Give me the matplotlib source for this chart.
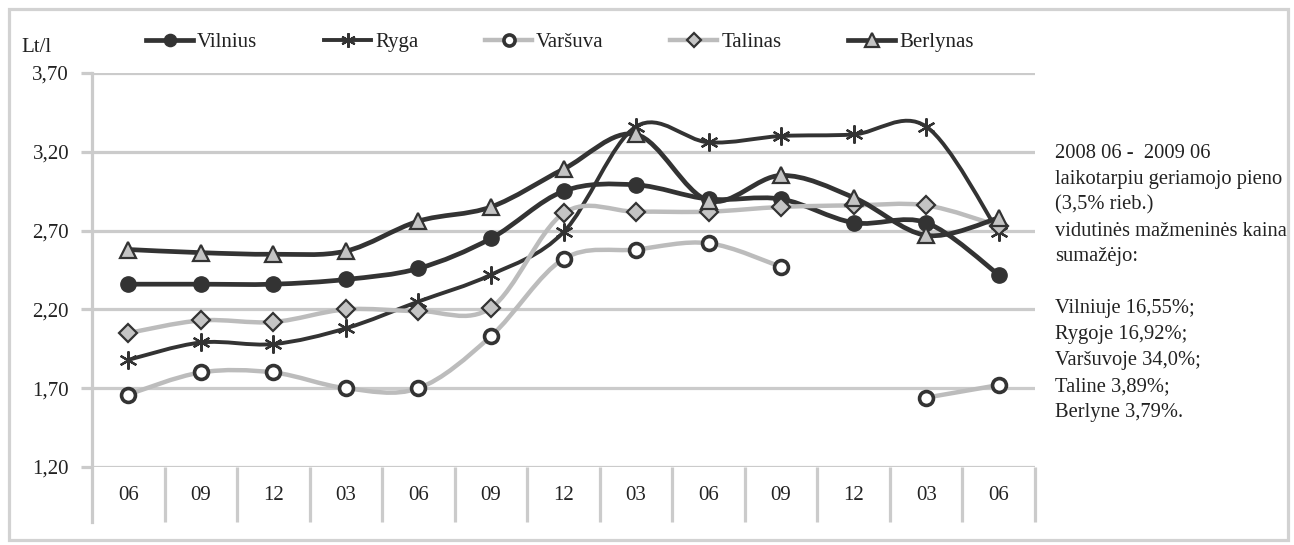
import numpy as np
import matplotlib
matplotlib.use("Agg")
import matplotlib.pyplot as plt
from matplotlib.path import Path
from matplotlib.patches import PathPatch, Rectangle
from matplotlib.lines import Line2D

plt.rcParams['font.family'] = ['Liberation Serif', 'DejaVu Serif']

# ---------------- data ----------------
categories = ['06', '09', '12', '03', '06', '09', '12', '03', '06', '09', '12', '03', '06']
vilnius = [2.36, 2.36, 2.36, 2.39, 2.46, 2.65, 2.95, 2.99, 2.90, 2.90, 2.75, 2.75, 2.42]
ryga = [1.88, 1.99, 1.98, 2.08, 2.25, 2.42, 2.69, 3.36, 3.26, 3.30, 3.31, 3.36, 2.69]
varsuva = [1.66, 1.80, 1.80, 1.70, 1.70, 2.03, 2.52, 2.58, 2.62, 2.47, np.nan, 1.64, 1.72]
talinas = [2.05, 2.13, 2.12, 2.20, 2.19, 2.21, 2.81, 2.82, 2.82, 2.85, 2.86, 2.86, 2.73]
berlynas = [2.58, 2.56, 2.55, 2.57, 2.76, 2.85, 3.09, 3.31, 2.89, 3.05, 2.91, 2.67, 2.78]
series_names = ['Vilnius', 'Ryga', 'Varšuva', 'Talinas', 'Berlynas']
yticks = [1.20, 1.70, 2.20, 2.70, 3.20, 3.70]
note_lines = ['2008 06 -  2009 06', 'laikotarpiu geriamojo pieno', '(3,5% rieb.)',
              'vidutinės mažmeninės kaina', 'sumažėjo:', '',
              'Vilniuje 16,55%;', 'Rygoje 16,92%;', 'Varšuvoje 34,0%;',
              'Taline 3,89%;', 'Berlyne 3,79%.']

DARK = '#333333'
LGREY = '#bcbcbc'
MFILL = '#c4c4c4'
GRID = '#cbcbcb'
TXT = '#222222'
FS = 15

styles = {
    'Vilnius': dict(color=DARK, lw=3.4, marker='o', ms=11, mfc=DARK, mec=DARK, mew=1.0),
    'Ryga': dict(color=DARK, lw=2.8, marker=(6, 2, 0), ms=13, mfc=DARK, mec=DARK, mew=1.6),
    'Varšuva': dict(color=LGREY, lw=3.2, marker='o', ms=10, mfc='white', mec=DARK, mew=2.6),
    'Talinas': dict(color=LGREY, lw=3.2, marker='D', ms=9.5, mfc=MFILL, mec=DARK, mew=1.6),
    'Berlynas': dict(color=DARK, lw=3.4, marker='^', ms=12, mfc=MFILL, mec=DARK, mew=1.6),
}

W, H = 1294, 545
fig = plt.figure(figsize=(W / 100, H / 100), dpi=100)
fig.patch.set_facecolor('white')
ax = fig.add_axes([92 / W, 1 - 467 / H, (1035 - 92) / W, (467 - 73) / H])
ax.set_xlim(-0.5, len(categories) - 0.5)
ax.set_ylim(1.2, 3.7)
for s in ax.spines.values():
    s.set_visible(False)

# horizontal gridlines
for yv in yticks:
    ax.axhline(yv, color=GRID, lw=2.3, zorder=0.5)
# left axis line and category separators
xt = ax.get_xaxis_transform()
ax.plot([-0.5, -0.5], [-0.139, 1.0], transform=xt, color=GRID, lw=2.3, clip_on=False, zorder=0.5)
ax.vlines(np.arange(len(categories)) + 0.5, -0.139, 0, transform=xt, color=GRID, lw=2.3,
          clip_on=False, zorder=0.5)

ax.set_yticks(yticks)
ax.set_yticklabels([f'{v:.2f}'.replace('.', ',') for v in yticks])
ax.tick_params(axis='y', length=8, width=2.3, color=GRID, pad=8.5, labelsize=FS,
               labelcolor=TXT)
ax.set_xticks(range(len(categories)))
ax.set_xticklabels(categories)
ax.tick_params(axis='x', length=0, pad=14, labelsize=FS, labelcolor=TXT)


def smooth_path(xs, ys):
    verts, codes = [], []
    xs = np.asarray(xs, float)
    ys = np.asarray(ys, float)
    valid = ~np.isnan(ys)
    segs, cur = [], []
    for i in range(len(xs)):
        if valid[i]:
            cur.append(i)
        else:
            if cur:
                segs.append(cur)
            cur = []
    if cur:
        segs.append(cur)
    for seg in segs:
        P = np.column_stack([xs[seg], ys[seg]])
        n = len(P)
        if n < 2:
            continue
        verts.append(P[0]); codes.append(Path.MOVETO)
        for i in range(n - 1):
            p0 = P[i - 1] if i > 0 else P[i]
            p1, p2 = P[i], P[i + 1]
            p3 = P[i + 2] if i + 2 < n else P[i + 1]
            c1 = p1 + (p2 - p0) / 6.0
            c2 = p2 - (p3 - p1) / 6.0
            verts += [c1, c2, p2]
            codes += [Path.CURVE4] * 3
    return Path(verts, codes)


data = [vilnius, ryga, varsuva, talinas, berlynas]
x = np.arange(len(categories))
handles = []
for k, (name, ys) in enumerate(zip(series_names, data)):
    st = styles[name]
    z = 2 + 2 * k
    patch = PathPatch(smooth_path(x, ys), fill=False, edgecolor=st['color'], lw=st['lw'],
                      capstyle='round', joinstyle='round', zorder=z)
    ax.add_patch(patch)
    ax.plot(x, ys, linestyle='none', marker=st['marker'], ms=st['ms'], mfc=st['mfc'],
            mec=st['mec'], mew=st['mew'], zorder=z + 1, clip_on=False)
    handles.append(Line2D([0], [0], color=st['color'], lw=st['lw'], marker=st['marker'],
                          ms=st['ms'] * 0.8, mfc=st['mfc'], mec=st['mec'], mew=st['mew']))

leg = fig.legend(handles, series_names, loc='center', bbox_to_anchor=(560 / W, 1 - 42 / H),
                 ncol=5, frameon=False, fontsize=FS, handlelength=2.25, handletextpad=0.2,
                 columnspacing=3.2, borderpad=0.2)
for t in leg.get_texts():
    t.set_color(TXT)

fig.text(21 / W, 1 - 47 / H, 'Lt/l', fontsize=FS, va='center', ha='left', color=TXT)

y0, dy = 153, 26.0
for i, line in enumerate(note_lines):
    if line:
        fig.text(1055 / W, 1 - (y0 + i * dy) / H, line, fontsize=14.8, va='center', ha='left',
                 color=TXT)

fig.patches.append(Rectangle((9 / W, 5 / H), (1288 - 9) / W, (536 - 5) / H, transform=fig.transFigure,
                             fill=False, edgecolor='#d2d2d2', lw=2.3, zorder=10))

fig.savefig('out.png', dpi=100, facecolor='white')
